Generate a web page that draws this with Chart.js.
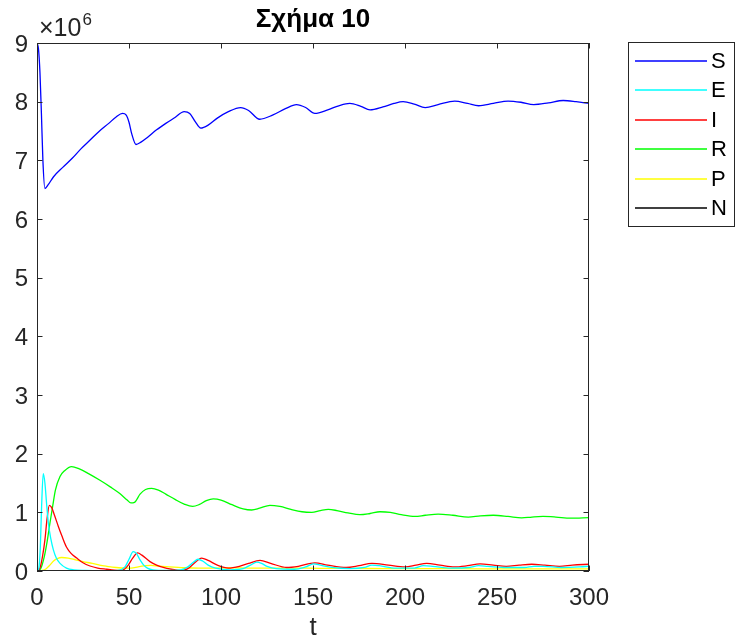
<!DOCTYPE html>
<html>
<head>
<meta charset="utf-8">
<script src="https://cdn.jsdelivr.net/npm/chart.js@4/dist/chart.umd.min.js"></script>
<style>
  html, body { margin: 0; padding: 0; background: #fff; }
  #wrap { width: 736px; height: 641px; }
</style>
</head>
<body>
<div id="wrap"><canvas id="c" width="736" height="641"></canvas></div>
<script>
// valeurs (unités : 1e6 personnes)
const sT = [0, 0.8, 1.6, 2.4, 3.2, 4.3, 6, 9, 14, 19, 24, 29, 34, 39, 43, 46.5, 48.5, 50, 51.5, 53.8, 56.5, 60, 65, 70, 75, 80, 83, 86, 89, 93, 98, 104, 110.7, 115, 121, 128, 135, 141, 146, 151, 158, 164, 170, 176, 181, 188, 194, 199, 205, 211, 218, 227, 234, 240, 248, 256, 263, 270, 278, 286, 293, 300];
const sV = [9.0, 8.9, 8.5, 7.8, 7.0, 6.52, 6.58, 6.72, 6.88, 7.03, 7.2, 7.35, 7.5, 7.63, 7.74, 7.8, 7.77, 7.65, 7.45, 7.27, 7.31, 7.39, 7.52, 7.63, 7.73, 7.83, 7.8, 7.66, 7.55, 7.6, 7.72, 7.83, 7.9, 7.85, 7.7, 7.77, 7.88, 7.95, 7.9, 7.8, 7.86, 7.93, 7.97, 7.92, 7.86, 7.91, 7.97, 8.0, 7.96, 7.9, 7.95, 8.01, 7.97, 7.93, 7.97, 8.01, 7.99, 7.95, 7.98, 8.02, 8.0, 7.97];

const eT = [0, 1, 1.8, 2.5, 3.4, 4.3, 5.2, 6.2, 7.5, 8.9, 10.5, 12.5, 16, 20, 26, 35, 44, 47.8, 50, 52.3, 54, 56, 58, 60, 63, 70, 78, 82, 85, 87.5, 90, 93, 97, 105, 112, 116, 119.4, 122, 125, 130, 140, 146, 150.2, 154, 160, 170, 178, 182, 186, 195, 205, 210, 215, 225, 235, 240, 245, 255, 265, 270, 275, 285, 295, 300];
const eV = [0, 0.05, 0.4, 1.1, 1.66, 1.5, 1.15, 0.81, 0.55, 0.36, 0.22, 0.13, 0.05, 0.02, 0.01, 0.005, 0.01, 0.07, 0.2, 0.33, 0.3, 0.19, 0.1, 0.05, 0.02, 0.01, 0.02, 0.07, 0.15, 0.2, 0.17, 0.1, 0.05, 0.02, 0.04, 0.1, 0.15, 0.13, 0.08, 0.04, 0.03, 0.07, 0.12, 0.1, 0.06, 0.04, 0.06, 0.1, 0.09, 0.05, 0.05, 0.09, 0.08, 0.05, 0.06, 0.09, 0.08, 0.06, 0.06, 0.08, 0.08, 0.06, 0.07, 0.08];

const iT = [0, 1.6, 3, 4.3, 5.5, 6.7, 8, 9.5, 11.6, 13.5, 16, 18.5, 21.6, 25, 28.8, 33, 37.9, 42, 45, 47.5, 49.6, 52, 54.7, 57, 61.4, 65, 68.6, 73, 78, 82, 85, 89.5, 93, 98, 104, 110, 115, 121.2, 127, 135.7, 142, 151, 158, 168, 175, 182, 191, 200, 206, 211.8, 219, 227, 234, 240.8, 248, 255, 262, 268.9, 276, 284, 291, 300];
const iV = [0, 0.05, 0.25, 0.53, 0.9, 1.12, 1.08, 0.95, 0.76, 0.6, 0.41, 0.3, 0.22, 0.14, 0.085, 0.05, 0.03, 0.015, 0.01, 0.03, 0.1, 0.22, 0.31, 0.27, 0.16, 0.1, 0.06, 0.03, 0.01, 0.04, 0.12, 0.22, 0.18, 0.1, 0.05, 0.08, 0.13, 0.18, 0.13, 0.06, 0.08, 0.14, 0.1, 0.06, 0.09, 0.13, 0.1, 0.07, 0.1, 0.13, 0.1, 0.07, 0.09, 0.12, 0.1, 0.08, 0.1, 0.115, 0.1, 0.08, 0.1, 0.115];

const rT = [0, 2, 4, 5.5, 7, 8.5, 10, 12.5, 15, 18.8, 23, 28, 34, 40, 45, 49, 51, 53, 56, 59, 62.3, 66, 70, 75, 80, 84.6, 88, 92, 95.8, 100, 106, 112, 116.7, 121, 126.6, 132, 138, 144, 149.3, 154, 158.3, 163, 169, 175.5, 181, 186.4, 192, 198, 205.4, 211, 218, 226, 234.4, 241, 248, 256, 263.4, 269, 275, 282, 290, 300];
const rV = [0, 0.04, 0.25, 0.5, 0.81, 1.1, 1.38, 1.61, 1.71, 1.78, 1.74, 1.66, 1.55, 1.43, 1.32, 1.21, 1.16, 1.17, 1.31, 1.39, 1.41, 1.38, 1.31, 1.22, 1.14, 1.10, 1.13, 1.2, 1.23, 1.21, 1.13, 1.06, 1.04, 1.07, 1.12, 1.1, 1.05, 1.01, 1.0, 1.03, 1.05, 1.03, 0.99, 0.96, 0.98, 1.01, 1.0, 0.96, 0.93, 0.95, 0.97, 0.95, 0.92, 0.94, 0.95, 0.93, 0.905, 0.92, 0.93, 0.92, 0.9, 0.91];

const pT = [0, 3, 5, 7, 9, 11, 13.4, 17, 21, 25, 30, 34, 38, 43, 48, 51, 55, 59, 62, 66, 72, 80, 88, 96, 105, 115, 125, 140, 155, 170, 190, 210, 230, 250, 270, 300];
const pV = [0, 0.01, 0.04, 0.1, 0.17, 0.21, 0.23, 0.22, 0.19, 0.16, 0.13, 0.1, 0.08, 0.06, 0.05, 0.05, 0.07, 0.09, 0.095, 0.085, 0.07, 0.055, 0.05, 0.05, 0.055, 0.05, 0.05, 0.05, 0.045, 0.045, 0.04, 0.04, 0.04, 0.035, 0.035, 0.035];

const nT = [0, 300];
const nV = [9.0, 9.0];

const seriesNames = ['S', 'E', 'I', 'R', 'P', 'N'];
const seriesColors = ['#0000ff', '#00ffff', '#ff0000', '#00ff00', '#ffff00', '#000000'];
const xTicks = [0, 50, 100, 150, 200, 250, 300];
const yTicks = [0, 1, 2, 3, 4, 5, 6, 7, 8, 9];

const FONT = '"Liberation Sans", Arial, Helvetica, sans-serif';
const INK = '#262626';

function pts(ts, vs) {
    return ts.map((t, k) => ({ x: t, y: vs[k] * 1e6 }));
}

const allData = [[sT, sV], [eT, eV], [iT, iV], [rT, rV], [pT, pV], [nT, nV]];

// cadre, graduations intérieures, titre, légende façon MATLAB
const matlabDeco = {
    id: 'matlabDeco',
    afterDraw(chart) {
        const { ctx, chartArea: a, scales } = chart;
        ctx.save();
        ctx.strokeStyle = INK;
        ctx.lineWidth = 1;
        ctx.strokeRect(Math.round(a.left) + 0.5, Math.round(a.top) + 0.5,
            Math.round(a.right - a.left) - 1, Math.round(a.bottom - a.top) - 1);

        const tl = 5.5;
        ctx.beginPath();
        xTicks.forEach(v => {
            const px = Math.round(scales.x.getPixelForValue(v)) + 0.5;
            ctx.moveTo(px, a.bottom); ctx.lineTo(px, a.bottom - tl);
            ctx.moveTo(px, a.top); ctx.lineTo(px, a.top + tl);
        });
        yTicks.forEach(v => {
            const py = Math.round(scales.y.getPixelForValue(v * 1e6)) + 0.5;
            ctx.moveTo(a.left, py); ctx.lineTo(a.left + tl, py);
            ctx.moveTo(a.right, py); ctx.lineTo(a.right - tl, py);
        });
        ctx.stroke();

        ctx.fillStyle = '#000';
        ctx.font = 'bold 26px ' + FONT;
        ctx.textAlign = 'center';
        ctx.textBaseline = 'alphabetic';
        ctx.fillText('Σχήμα 10', (a.left + a.right) / 2, 27);

        ctx.fillStyle = INK;
        ctx.font = '25px ' + FONT;
        ctx.textAlign = 'left';
        ctx.fillText('\u00d710', 39, 36);
        const w = ctx.measureText('\u00d710').width;
        ctx.font = '17px ' + FONT;
        ctx.fillText('6', 39 + w + 1, 25);

        ctx.font = '26px ' + FONT;
        ctx.textAlign = 'center';
        ctx.fillText('t', (a.left + a.right) / 2, 635);

        // légende
        ctx.fillStyle = '#fff';
        ctx.fillRect(628.5, 42.5, 106, 184);
        ctx.strokeStyle = INK;
        ctx.lineWidth = 1;
        ctx.strokeRect(628.5, 42.5, 106, 184);
        ctx.font = '22px ' + FONT;
        ctx.textAlign = 'left';
        ctx.textBaseline = 'middle';
        seriesNames.forEach((name, k) => {
            const y = Math.round(60.7 + 29.5 * k);
            ctx.strokeStyle = seriesColors[k];
            ctx.lineWidth = 1.3;
            ctx.beginPath();
            ctx.moveTo(635, y); ctx.lineTo(707, y);
            ctx.stroke();
            ctx.fillStyle = '#000';
            ctx.fillText(name, 711, y + 1);
        });
        ctx.restore();
    }
};

new Chart(document.getElementById('c'), {
    type: 'line',
    data: {
        datasets: allData.map((d, k) => ({
            label: seriesNames[k],
            data: pts(d[0], d[1]),
            borderColor: seriesColors[k],
            backgroundColor: seriesColors[k],
            borderWidth: 1.3,
            pointRadius: 0,
            fill: false,
            cubicInterpolationMode: 'monotone'
        }))
    },
    options: {
        responsive: false,
        animation: false,
        events: [],
        layout: { padding: { top: 43, right: 147, left: 0, bottom: 0 } },
        plugins: { legend: { display: false }, title: { display: false }, tooltip: { enabled: false } },
        scales: {
            x: {
                type: 'linear', min: 0, max: 300,
                afterFit: s => { s.height = 70; },
                afterBuildTicks: s => { s.ticks = xTicks.map(v => ({ value: v })); },
                grid: { display: false, drawTicks: false },
                border: { display: false },
                ticks: { color: INK, padding: 13, font: { family: FONT, size: 24 }, maxRotation: 0 }
            },
            y: {
                type: 'linear', min: 0, max: 9e6,
                afterFit: s => { s.width = 37; },
                afterBuildTicks: s => { s.ticks = yTicks.map(v => ({ value: v * 1e6 })); },
                grid: { display: false, drawTicks: false },
                border: { display: false },
                ticks: { color: INK, padding: 9, labelOffset: 2, font: { family: FONT, size: 24 }, callback: v => v / 1e6 }
            }
        }
    },
    plugins: [matlabDeco]
});
</script>
</body>
</html>
